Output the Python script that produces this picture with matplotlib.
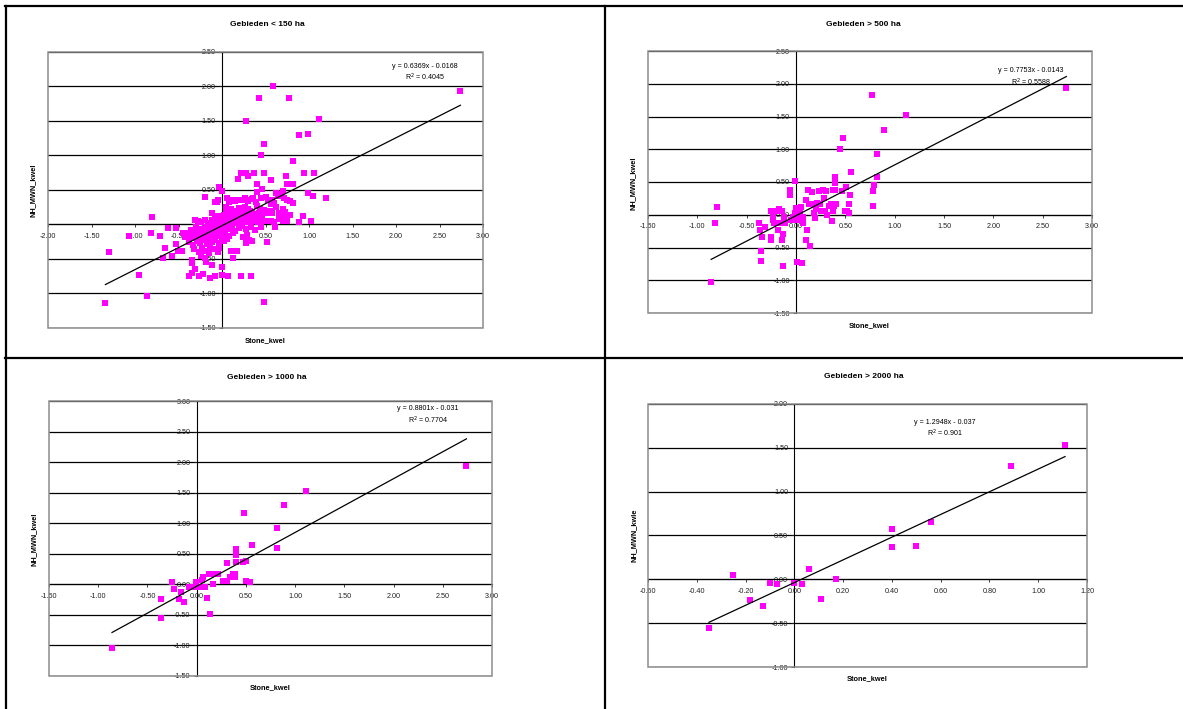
import numpy as np
import matplotlib
matplotlib.use("Agg")
import matplotlib.pyplot as plt
from matplotlib.patches import Rectangle
from matplotlib.lines import Line2D

plt.rcParams['font.family'] = ['Liberation Sans', 'DejaVu Sans']

# ---- data ----
# Gebieden < 150 ha
x150 = [-1.34, -1.30, -1.07, -0.95, -0.86, -0.82, -0.80, -0.71, -0.68, -0.66, -0.62, -0.57, -0.53, -0.53,
        -0.51, -0.46, -0.42, -0.38, -0.35, -0.35, -0.34, -0.31, -0.31, -0.27, -0.22, -0.20, -0.24, -0.18,
        -0.14, -0.14, -0.08, -0.03, -0.06, -0.04, 0.00, 0.00, 0.00, 0.07, 0.10, 0.17, 0.13, 0.18, 0.22,
        0.22, 0.25, 0.28, 0.28, 0.30, 0.33, 0.35, 0.37, 0.40, 0.40, 0.43, 0.45, 0.46, 0.48, 0.48, 0.48,
        0.52, 0.56, 0.59, 0.61, 0.62, 0.70, 0.73, 0.75, 0.77, 0.82, 0.82, 0.82, 0.88, 0.88, 0.93, 0.94,
        0.99, 0.99, 1.02, 1.05, 1.06, 1.11, 1.20, 2.74,
        -0.08, -0.05, 0.06, 0.08, 0.12, 0.15, 0.18, 0.22, 0.26, 0.28, 0.30, 0.34, 0.36, 0.39, 0.45, 0.50,
        0.53, 0.56, 0.58, 0.60, 0.64, 0.67, 0.71, 0.75, 0.78,
        0.05, 0.10, 0.14, 0.20, 0.24, 0.27, 0.30, 0.32, 0.40, 0.44, 0.48, 0.55, 0.62, 0.70, 0.72,
        -0.12, -0.08, -0.02, 0.02, 0.05, 0.08, 0.11, 0.14, 0.17, 0.20, 0.22, 0.25, 0.28, 0.31, 0.34, 0.37,
        0.40, 0.43, 0.46, 0.50, 0.55, 0.58, 0.66, 0.72, 0.78,
        -0.28, -0.24, -0.20, -0.16, -0.12, -0.09, -0.05, -0.02, 0.02, 0.05, 0.08, 0.11, 0.14, 0.17, 0.20,
        0.23, 0.26, 0.29, 0.32, 0.35, 0.38, 0.41, 0.44, 0.47, 0.52, 0.56, 0.60, 0.66, 0.70, 0.75,
        -0.45, -0.40, -0.36, -0.33, -0.30, -0.27, -0.24, -0.21, -0.18, -0.15, -0.12, -0.09, -0.06, -0.03,
        0.00, 0.03, 0.06, 0.09, 0.12, 0.15, 0.19, 0.23, 0.28, 0.33, 0.38, 0.45,
        -0.42, -0.36, -0.32, -0.28, -0.25, -0.21, -0.18, -0.14, -0.11, -0.07, -0.04, 0.00, 0.04, 0.08,
        0.13, 0.24, 0.29,
        -0.38, -0.33, -0.29, -0.25, -0.21, -0.17, -0.12, -0.08, -0.03, 0.02, 0.06, 0.28, 0.31,
        -0.32, -0.27, -0.23, -0.19, -0.15, -0.10, -0.05, -0.19, -0.18, -0.12]
y150 = [-1.14, -0.40, -0.16, -0.73, -1.04, -0.12, 0.11, -0.17, -0.49, -0.34, -0.05, -0.46, -0.05, -0.28,
        -0.38, -0.38, -0.12, -0.75, -0.70, -0.56, -0.51, -0.64, 0.06, -0.75, -0.72, 0.40, -0.46, -0.54,
        -0.78, -0.33, -0.74, -0.34, 0.33, 0.55, -0.61, -0.73, 0.49, -0.75, -0.38, -0.38, -0.49, 0.66, 0.75,
        -0.75, 0.75, 0.75, 1.50, 0.70, -0.75, -0.24, 0.75, 0.58, 0.47, 1.83, 1.00, 0.51, 1.17, 0.75, -1.12,
        -0.25, 0.65, 2.00, -0.03, 0.46, 0.48, 0.70, 0.59, 1.83, 0.59, 0.92, 0.31, 1.29, 0.04, 0.13, 0.75,
        1.31, 0.46, 0.05, 0.41, 0.75, 1.53, 0.38, 1.93,
        0.32, 0.36, 0.38, 0.33, 0.35, 0.34, 0.35, 0.36, 0.38, 0.36, 0.34, 0.37, 0.38, 0.33, 0.38, 0.40,
        0.36, 0.30, 0.36, 0.31, 0.42, 0.44, 0.38, 0.35, 0.34,
        0.25, 0.22, 0.20, 0.24, 0.21, 0.25, 0.22, 0.20, 0.27, 0.23, 0.21, 0.20, 0.26, 0.22, 0.18,
        0.16, 0.12, 0.12, 0.14, 0.17, 0.13, 0.18, 0.12, 0.15, 0.17, 0.12, 0.15, 0.18, 0.13, 0.16, 0.12,
        0.15, 0.17, 0.13, 0.16, 0.18, 0.17, 0.17, 0.12, 0.14,
        0.05, 0.03, 0.06, 0.02, 0.07, 0.04, 0.08, 0.02, 0.06, 0.03, 0.08, 0.04, 0.07, 0.02, 0.05,
        0.08, 0.03, 0.06, 0.04, 0.08, 0.05, 0.03, 0.06, 0.05, 0.05, 0.05, 0.04, 0.08, 0.05, 0.05,
        -0.12, -0.12, -0.08, -0.12, -0.04, -0.10, -0.06, -0.12, -0.03, -0.08, -0.05, -0.10, -0.02, -0.07,
        -0.03, -0.08, -0.02, -0.06, -0.04, -0.09, -0.05, -0.02, -0.06, -0.03, -0.08, -0.04,
        -0.18, -0.20, -0.15, -0.18, -0.14, -0.20, -0.16, -0.19, -0.13, -0.17, -0.14, -0.18, -0.13, -0.16,
        -0.12, -0.18, -0.15,
        -0.26, -0.29, -0.24, -0.27, -0.23, -0.28, -0.25, -0.22, -0.27, -0.24, -0.21, -0.27, -0.22,
        -0.36, -0.40, -0.34, -0.38, -0.42, -0.36, -0.40, -0.48, -0.55, -0.58]

# Gebieden > 500 ha
x500 = [-0.86, -0.82, -0.80, -0.37, -0.36, -0.35, -0.35, -0.34, -0.31, -0.25, -0.25, -0.25, -0.23, -0.23,
        -0.22, -0.20, -0.18, -0.17, -0.16, -0.14, -0.14, -0.13, -0.13, -0.12, -0.11, -0.06, -0.06, -0.06,
        -0.05, -0.03, -0.01, -0.01, 0.00, 0.01, 0.01, 0.02, 0.04, 0.05, 0.06, 0.07, 0.07, 0.10, 0.11, 0.10,
        0.12, 0.13, 0.14, 0.16, 0.16, 0.18, 0.19, 0.20, 0.21, 0.23, 0.24, 0.25, 0.27, 0.28, 0.29, 0.30,
        0.31, 0.33, 0.35, 0.36, 0.37, 0.38, 0.38, 0.39, 0.40, 0.40, 0.40, 0.41, 0.45, 0.47, 0.48, 0.50,
        0.51, 0.52, 0.54, 0.54, 0.55, 0.56, 0.77, 0.78, 0.78, 0.79, 0.82, 0.82, 0.89, 1.11, 2.74]
y500 = [-1.03, -0.13, 0.12, -0.13, -0.24, -0.55, -0.70, -0.34, -0.19, 0.06, -0.34, -0.38, -0.03, -0.08,
        -0.13, 0.06, -0.24, 0.09, -0.13, 0.06, -0.38, -0.29, -0.78, -0.03, -0.13, 0.38, 0.30, 0.34,
        -0.08, -0.03, 0.03, 0.51, 0.10, -0.08, -0.72, -0.03, 0.06, 0.12, -0.74, -0.03, -0.13, 0.23, -0.23,
        -0.38, 0.38, 0.17, -0.48, 0.34, 0.17, 0.03, -0.05, 0.09, 0.18, 0.36, 0.17, 0.06, 0.38, 0.25, 0.06,
        0.36, 0.00, 0.13, 0.17, -0.09, 0.06, 0.38, 0.17, 0.13, 0.57, 0.48, 0.38, 0.17, 1.00, 0.37, 1.17,
        0.06, 0.42, 0.06, 0.03, 0.17, 0.30, 0.65, 1.83, 0.36, 0.14, 0.46, 0.92, 0.58, 1.29, 1.53, 1.93]

# Gebieden > 1000 ha
x1000 = [-0.86, -0.36, -0.36, -0.25, -0.23, -0.18, -0.16, -0.13, -0.08, -0.04, -0.01, 0.00, 0.02, 0.05,
         0.06, 0.08, 0.105, 0.13, 0.14, 0.17, 0.18, 0.22, 0.27, 0.31, 0.31, 0.34, 0.37, 0.39, 0.39, 0.40,
         0.40, 0.40, 0.47, 0.48, 0.50, 0.50, 0.54, 0.56, 0.82, 0.82, 0.89, 1.11, 2.74]
y1000 = [-1.04, -0.55, -0.245, 0.045, -0.07, -0.24, -0.13, -0.29, -0.05, -0.05, 0.04, -0.04, -0.05, 0.07,
         0.12, -0.05, -0.23, 0.17, -0.48, 0.00, 0.17, 0.17, 0.05, 0.35, 0.05, 0.12, 0.17, 0.17, 0.12, 0.57,
         0.48, 0.37, 0.36, 1.17, 0.38, 0.05, 0.03, 0.65, 0.59, 0.92, 1.29, 1.53, 1.93]

# Gebieden > 2000 ha
x2000 = [-0.35, -0.25, -0.18, -0.13, -0.10, -0.07, 0.00, 0.03, 0.06, 0.11, 0.17, 0.40, 0.40, 0.50, 0.56,
         0.89, 1.11]
y2000 = [-0.56, 0.05, -0.24, -0.30, -0.04, -0.05, -0.04, -0.05, 0.12, -0.23, 0.00, 0.57, 0.37, 0.38, 0.65,
         1.29, 1.53]

titles = ["Gebieden < 150 ha", "Gebieden > 500 ha", "Gebieden > 1000 ha", "Gebieden > 2000 ha"]
ylabels = ["NH_MWN_kwel", "NH_MWN_kwel", "NH_MWN_kwel", "NH_MWN_kwle"]
slopes = [0.6369, 0.7753, 0.8801, 1.2948]
intercepts = [-0.0168, -0.0143, -0.031, -0.037]
eq_text = ["y = 0.6369x - 0.0168", "y = 0.7753x - 0.0143", "y = 0.8801x - 0.031", "y = 1.2948x - 0.037"]
r2_text = ["R$^2$ = 0.4045", "R$^2$ = 0.5588", "R$^2$ = 0.7704", "R$^2$ = 0.901"]
xlims = [(-2.0, 3.0), (-1.5, 3.0), (-1.5, 3.0), (-0.6, 1.2)]
ylims = [(-1.5, 2.5), (-1.5, 2.5), (-1.5, 3.0), (-1.0, 2.0)]
xsteps = [0.5, 0.5, 0.5, 0.2]

W, H = 1183, 709
fig = plt.figure(figsize=(W / 100, H / 100), dpi=100)


def frac(px, py):
    return px / W, 1 - py / H


def rect(x0, y0, x1, y1):
    return [x0 / W, 1 - y1 / H, (x1 - x0) / W, (y1 - y0) / H]


# panel layout in pixels: plot box, title, x label, y label, equation
boxes = [(48, 52, 483, 328), (648, 51, 1092, 313), (49, 401, 492, 676), (648, 404, 1087, 667)]
title_pos = [(267, 25), (863, 24), (267, 378), (864, 377)]
xlab_pos = [(265, 341), (869, 326), (270, 688), (867, 679)]
ylab_pos = [(33, 190), (633, 183), (34, 539), (634, 535)]
eq_pos = [(425, 66), (1031, 71), (428, 409), (945, 422)]

xdata = [x150, x500, x1000, x2000]
ydata = [y150, y500, y1000, y2000]

for i in range(4):
    ax = fig.add_axes(rect(*boxes[i]))
    xs, ys = np.array(xdata[i]), np.array(ydata[i])
    ax.set_xlim(*xlims[i])
    ax.set_ylim(*ylims[i])

    ax.set_xticks(np.arange(xlims[i][0], xlims[i][1] + 1e-9, xsteps[i]))
    ax.set_yticks(np.arange(ylims[i][0], ylims[i][1] + 1e-9, 0.5))
    ax.xaxis.set_major_formatter(matplotlib.ticker.FormatStrFormatter('%.2f'))
    ax.yaxis.set_major_formatter(matplotlib.ticker.FormatStrFormatter('%.2f'))

    ax.spines['left'].set_position(('data', 0))
    ax.spines['bottom'].set_position(('data', 0))
    for s in ['left', 'bottom']:
        ax.spines[s].set_color('black')
        ax.spines[s].set_linewidth(0.8)
    ax.spines['top'].set_visible(False)
    ax.spines['right'].set_visible(False)
    ax.tick_params(labelsize=5.2, length=2, width=0.6, colors='#222222')
    ax.tick_params(axis='x', pad=4)
    ax.tick_params(axis='y', pad=2.5)

    ax.yaxis.grid(True, color='black', linewidth=0.9)
    ax.set_axisbelow(True)
    ax.add_patch(Rectangle((0, 0), 1, 1, transform=ax.transAxes, fill=False,
                           edgecolor='#8c8c8c', linewidth=1.1, zorder=5, clip_on=False))

    ax.plot(xs, ys, 's', color='#ff00ff', markersize=3.9, markeredgewidth=0, zorder=3)
    tx = np.array([xs.min(), xs.max()])
    ax.plot(tx, slopes[i] * tx + intercepts[i], color='black', linewidth=0.9, zorder=4)

    fig.text(*frac(*title_pos[i]), titles[i], ha='center', va='center', fontsize=6, fontweight='bold')
    fig.text(*frac(*xlab_pos[i]), "Stone_kwel", ha='center', va='center', fontsize=5.3, fontweight='bold')
    fig.text(*frac(*ylab_pos[i]), ylabels[i], ha='center', va='center', fontsize=5.3,
             fontweight='bold', rotation=90)
    ex, ey = eq_pos[i]
    fig.text(*frac(ex, ey), eq_text[i], ha='center', va='center', fontsize=5.1)
    fig.text(*frac(ex, ey + 11), r2_text[i], ha='center', va='center', fontsize=5.1)

# outer frame lines
for (x0, y0, x1, y1) in [(5, 6, W, 6), (5, 358, W, 358), (6, 6, 6, H), (605, 6, 605, H)]:
    p0, p1 = frac(x0, y0), frac(x1, y1)
    fig.add_artist(Line2D([p0[0], p1[0]], [p0[1], p1[1]], color='black', linewidth=1.6))

fig.savefig("out.png", dpi=100)
